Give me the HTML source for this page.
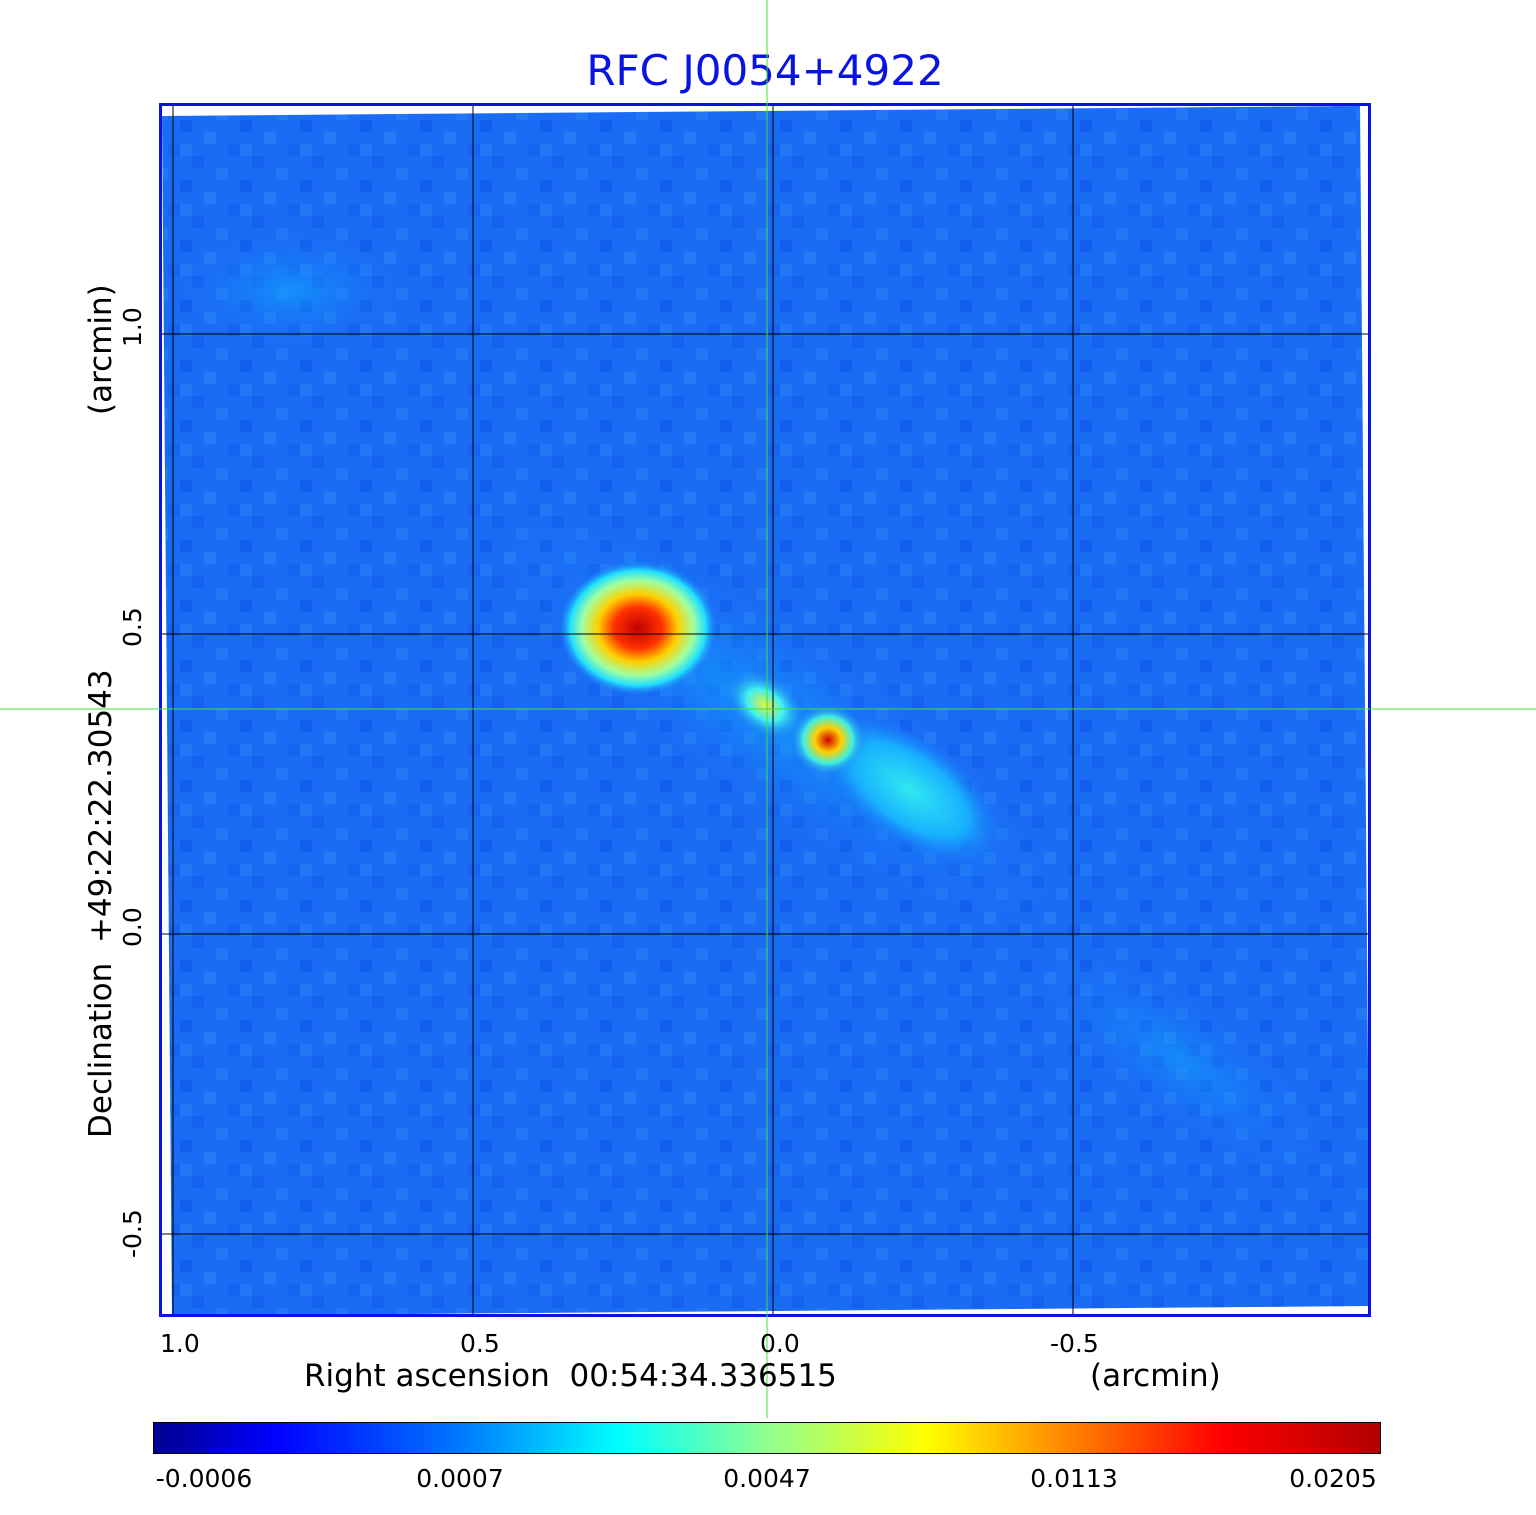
<!DOCTYPE html>
<html><head><meta charset="utf-8"><style>
body{margin:0;background:#fff;width:1536px;height:1511px;overflow:hidden;font-family:"DejaVu Sans","Liberation Sans",sans-serif}
text{white-space:pre}
</style></head><body>
<svg width="1536" height="1511" xmlns="http://www.w3.org/2000/svg" font-family="DejaVu Sans, Liberation Sans, sans-serif">
<defs>
<radialGradient id="s1" cx="0.5" cy="0.5" r="0.5">
<stop offset="0" stop-color="#c00000"/><stop offset="0.3" stop-color="#ff3000"/><stop offset="0.5" stop-color="#ffd000"/><stop offset="0.7" stop-color="#a0ffa0"/><stop offset="0.85" stop-color="#20e0ff"/><stop offset="1" stop-color="#1a6cf5" stop-opacity="0"/>
</radialGradient>
<radialGradient id="s2" cx="0.5" cy="0.5" r="0.5">
<stop offset="0" stop-color="#d00000"/><stop offset="0.35" stop-color="#ffd000"/><stop offset="0.65" stop-color="#40f0e0"/><stop offset="1" stop-color="#1a6cf5" stop-opacity="0"/>
</radialGradient>
<radialGradient id="s3" cx="0.5" cy="0.5" r="0.5">
<stop offset="0" stop-color="#e8f040"/><stop offset="0.45" stop-color="#40f0f0"/><stop offset="1" stop-color="#1a6cf5" stop-opacity="0"/>
</radialGradient>
<radialGradient id="s4" cx="0.5" cy="0.5" r="0.5">
<stop offset="0" stop-color="#30e8f0"/><stop offset="0.6" stop-color="#18b0ff"/><stop offset="1" stop-color="#1a6cf5" stop-opacity="0"/>
</radialGradient>
<radialGradient id="halo" cx="0.5" cy="0.5" r="0.5">
<stop offset="0" stop-color="#10a8ff"/><stop offset="1" stop-color="#1a6cf5" stop-opacity="0"/>
</radialGradient>
<linearGradient id="jet" x1="0" x2="1">
<stop offset="0" stop-color="#00008f"/><stop offset="0.1" stop-color="#0000ff"/><stop offset="0.25" stop-color="#0078ff"/><stop offset="0.38" stop-color="#00ffff"/><stop offset="0.5" stop-color="#90ff90"/><stop offset="0.63" stop-color="#ffff00"/><stop offset="0.87" stop-color="#ff0000"/><stop offset="1" stop-color="#b00000"/>
</linearGradient>
<pattern id="noise" width="60" height="60" patternUnits="userSpaceOnUse">
<rect x="0" y="0" width="12" height="12" fill="#0a50e8" opacity="0.5"/>
<rect x="24" y="12" width="12" height="12" fill="#2c8af8" opacity="0.5"/>
<rect x="12" y="36" width="12" height="12" fill="#0a50e8" opacity="0.4"/>
<rect x="48" y="24" width="12" height="12" fill="#0a50e8" opacity="0.3"/>
<rect x="0" y="24" width="12" height="12" fill="#2c8af8" opacity="0.4"/>
<rect x="36" y="48" width="12" height="12" fill="#2c8af8" opacity="0.4"/>
</pattern>
</defs>
<text x="765" y="85" font-size="42" fill="#0a14e0" text-anchor="middle">RFC J0054+4922</text>
<polygon points="162,116 1360,106 1370,1306 172,1316" fill="#1a6cf5"/>
<polygon points="162,116 1360,106 1370,1306 172,1316" fill="url(#noise)"/>
<ellipse cx="290" cy="290" rx="120" ry="60" fill="url(#halo)" opacity="0.6"/>
<ellipse cx="1180" cy="1060" rx="180" ry="60" fill="url(#halo)" opacity="0.5" transform="rotate(35 1180 1060)"/>
<ellipse cx="780" cy="720" rx="360" ry="90" fill="url(#halo)" opacity="0.7" transform="rotate(35 780 720)"/>
<ellipse cx="910" cy="790" rx="110" ry="55" fill="url(#s4)" transform="rotate(35 910 790)"/>
<ellipse cx="638" cy="628" rx="80" ry="68" fill="url(#s1)"/>
<ellipse cx="765" cy="705" rx="45" ry="30" fill="url(#s3)" transform="rotate(35 765 705)"/>
<ellipse cx="828" cy="740" rx="38" ry="36" fill="url(#s2)"/>
<g stroke="#000" stroke-width="1">
<line x1="173" y1="106" x2="173" y2="1316"/><line x1="473" y1="106" x2="473" y2="1316"/>
<line x1="773" y1="106" x2="773" y2="1316"/><line x1="1073" y1="106" x2="1073" y2="1316"/>
<line x1="160" y1="334" x2="1370" y2="334"/><line x1="160" y1="634" x2="1370" y2="634"/>
<line x1="160" y1="934" x2="1370" y2="934"/><line x1="160" y1="1234" x2="1370" y2="1234"/>
</g>
<rect x="160.5" y="104.5" width="1209" height="1211" fill="none" stroke="#0a14e0" stroke-width="3"/>
<line x1="767" y1="0" x2="767" y2="1418" stroke="#40e040" stroke-width="1"/>
<line x1="0" y1="709" x2="1536" y2="709" stroke="#40e040" stroke-width="1"/>
<g font-size="25" fill="#000">
<text x="160" y="1352">1.0</text><text x="460" y="1352">0.5</text><text x="760" y="1352">0.0</text><text x="1050" y="1352">-0.5</text>
<text x="304" y="1386" font-size="31">Right ascension  00:54:34.336515</text>
<text x="1090" y="1386" font-size="31">(arcmin)</text>
<g transform="rotate(-90)">
<text x="-347" y="141">1.0</text><text x="-647" y="141">0.5</text><text x="-947" y="141">0.0</text><text x="-1258" y="141">-0.5</text>
<text x="-1138" y="111" font-size="31">Declination  +49:22:22.30543</text>
<text x="-415" y="111" font-size="31">(arcmin)</text>
</g>
</g>
<rect x="153.5" y="1422.5" width="1227" height="31" fill="url(#jet)" stroke="#000" stroke-width="1"/>
<g font-size="25" fill="#000" text-anchor="middle">
<text x="204" y="1487">-0.0006</text><text x="460" y="1487">0.0007</text><text x="767" y="1487">0.0047</text><text x="1074" y="1487">0.0113</text><text x="1333" y="1487">0.0205</text>
</g>
</svg>
</body></html>
